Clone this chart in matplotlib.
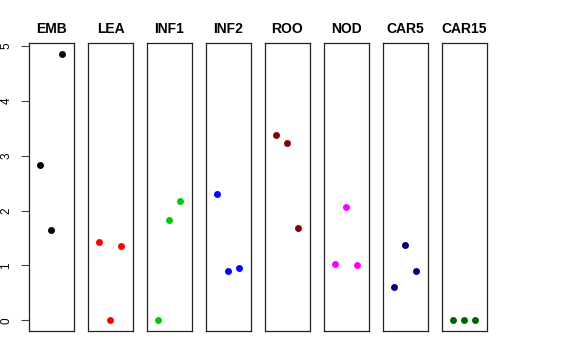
import numpy as np
import matplotlib
matplotlib.use("Agg")
import matplotlib.pyplot as plt

plt.rcParams["font.family"] = ["Liberation Sans", "DejaVu Sans"]

tissues = ["EMB", "LEA", "INF1", "INF2", "ROO", "NOD", "CAR5", "CAR15"]
colors = ["black", "red", "#00CD00", "blue", "#8B0000", "magenta", "#000080", "#006400"]

emb = [2.84, 1.65, 4.86]
lea = [1.42, 0.0, 1.35]
inf1 = [0.0, 1.83, 2.17]
inf2 = [2.31, 0.89, 0.96]
roo = [3.38, 3.23, 1.69]
nod = [1.03, 2.07, 1.00]
car5 = [0.60, 1.37, 0.89]
car15 = [0.0, 0.0, 0.0]

values = [emb, lea, inf1, inf2, roo, nod, car5, car15]

W, H = 576, 360
fig = plt.figure(figsize=(W / 100, H / 100), dpi=100)

# shared y range, R style 4% padding
lo = min(min(v) for v in values)
hi = max(max(v) for v in values)
pad = (hi - lo) * 0.04
ylim = (lo - pad, hi + pad)

left0 = 29
pw = 45
step = 59
top = 43
bottom = 331

for i, (name, col, vals) in enumerate(zip(tissues, colors, values)):
    x0 = left0 + i * step
    ax = fig.add_axes([x0 / W, 1 - bottom / H, pw / W, (bottom - top) / H])
    ax.plot([1, 2, 3], vals, "o", color=col, ms=5, mec="none")
    ax.set_xlim(0, 4.1)
    ax.set_ylim(*ylim)
    ax.set_xticks([])
    ax.set_title(name, fontsize=10, fontweight="bold", pad=7)
    for s in ax.spines.values():
        s.set_linewidth(0.9)
        s.set_color("#222222")
    if i == 0:
        ax.set_yticks([0, 1, 2, 3, 4, 5])
        ax.tick_params(axis="y", length=6, width=0.8, labelsize=8.5, pad=6,
                       color="#444444", labelrotation=90)
        for lab in ax.get_yticklabels():
            lab.set_va("center")
    else:
        ax.set_yticks([])

fig.savefig("out.png", dpi=100)
